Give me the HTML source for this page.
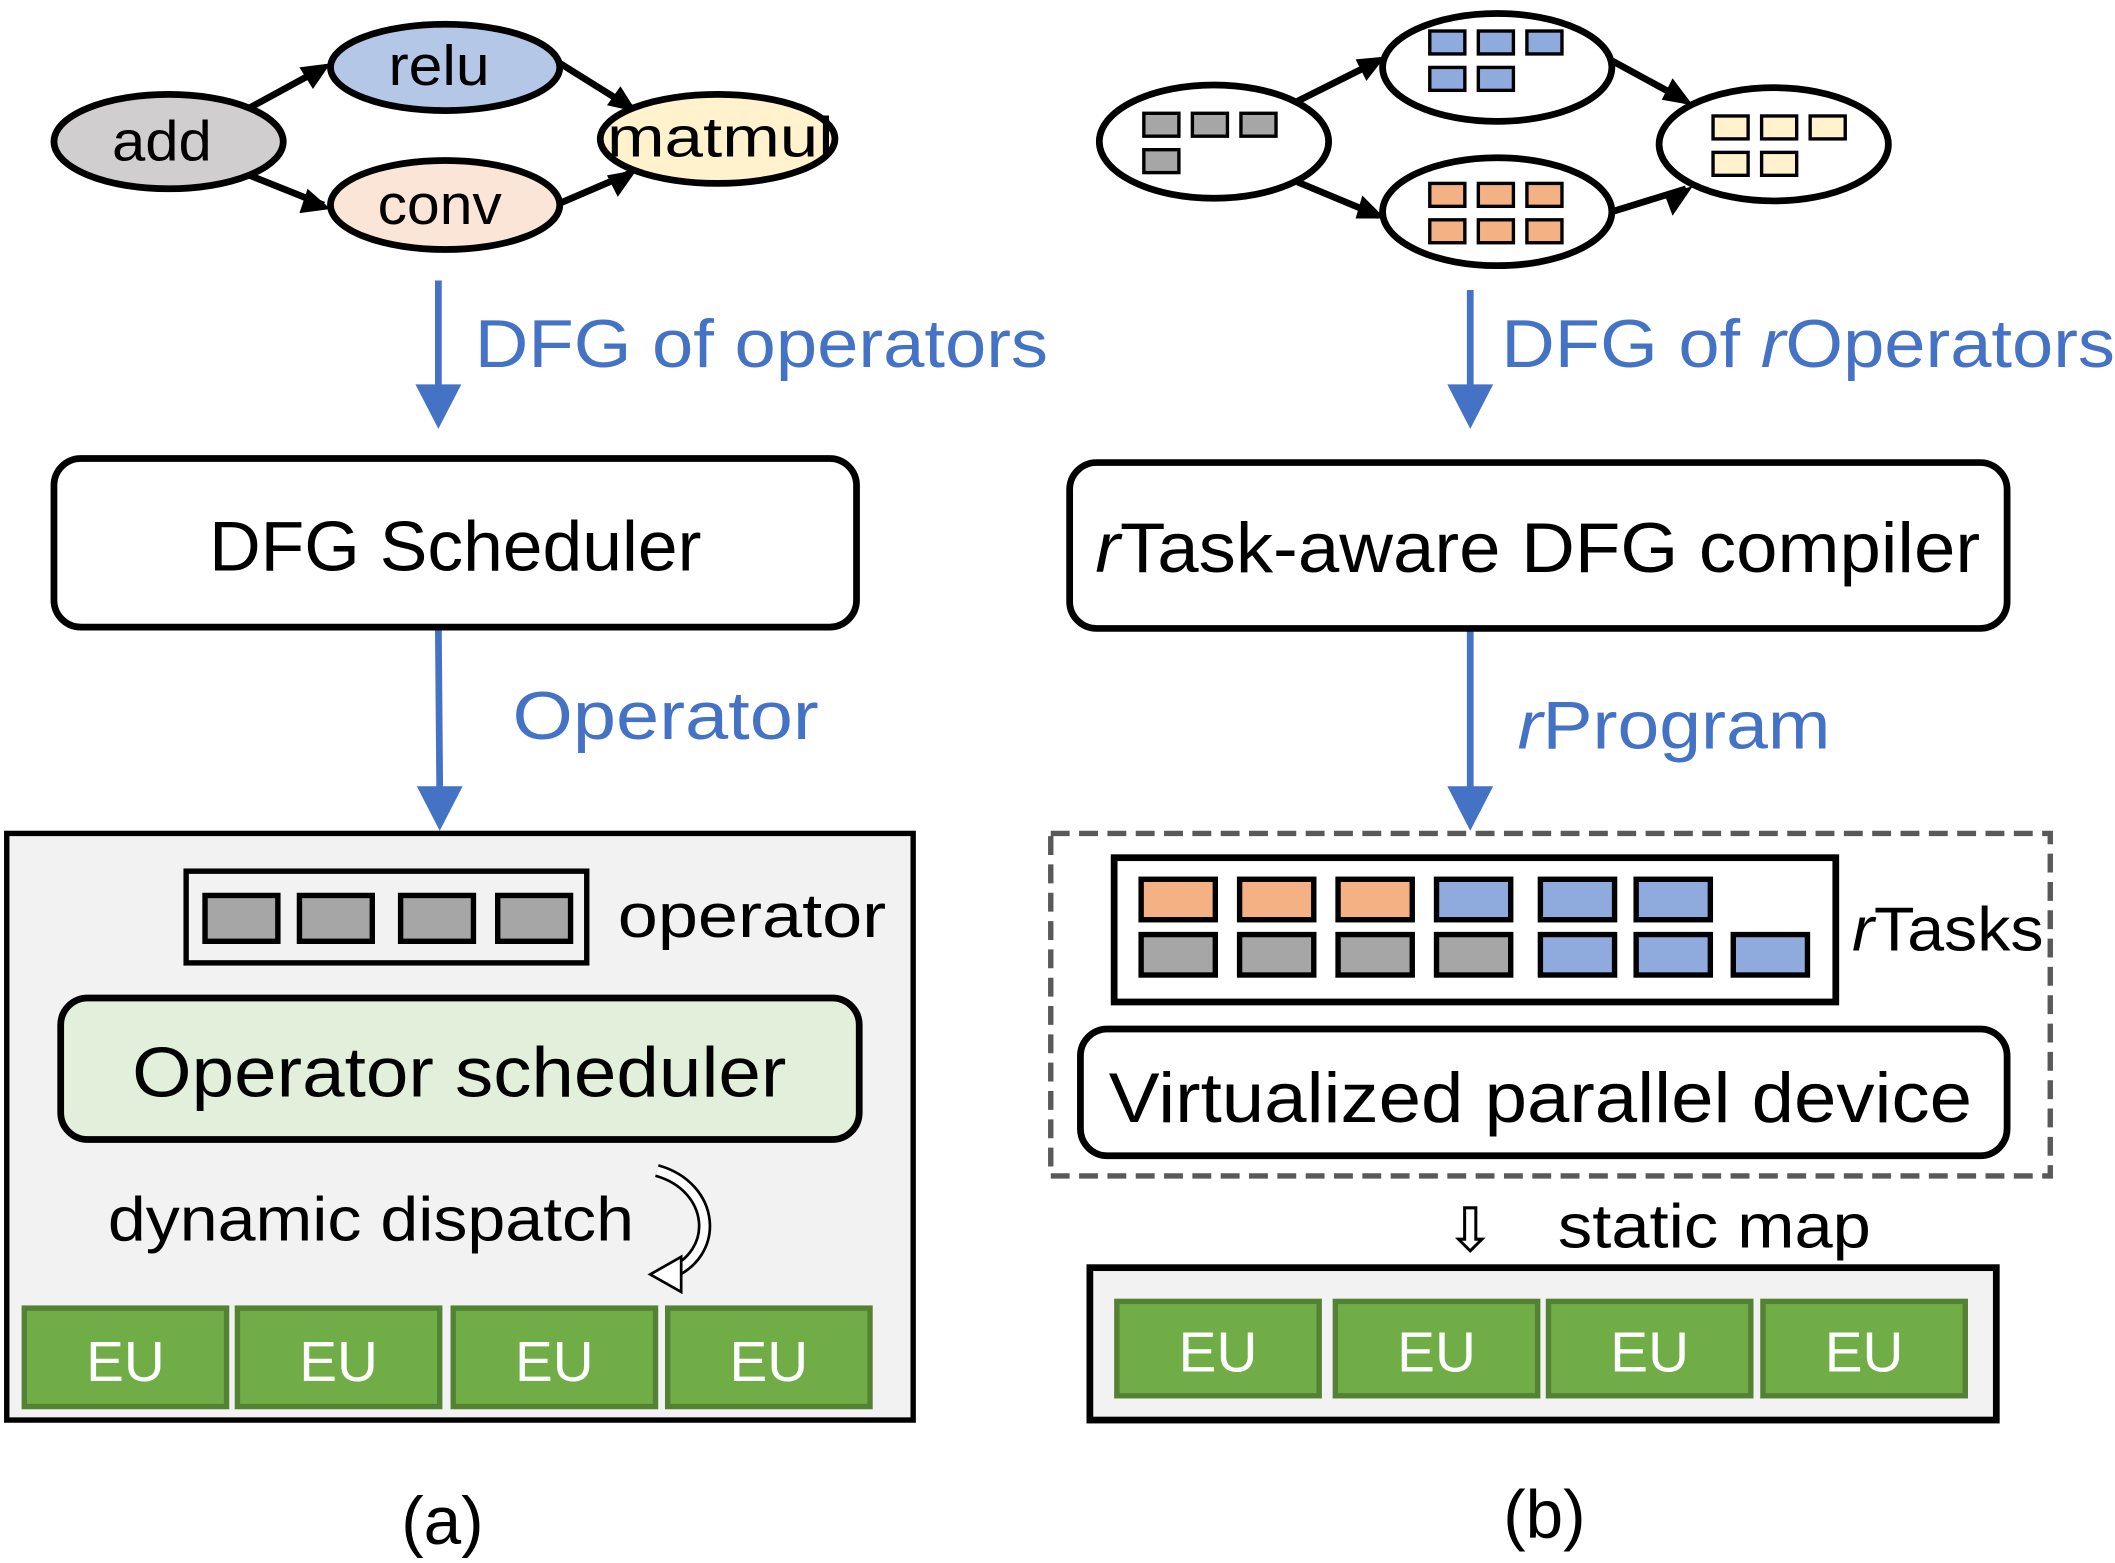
<!DOCTYPE html>
<html><head><meta charset="utf-8"><style>
html,body{margin:0;padding:0;background:#fff}
svg{display:block}
text{font-family:"Liberation Sans",sans-serif}
</style></head><body>
<svg width="2115" height="1563" viewBox="0 0 1568 1159" preserveAspectRatio="none" xmlns="http://www.w3.org/2000/svg">
<g stroke="#000" stroke-width="5">
<line x1="185" y1="80" x2="240" y2="50"/>
<line x1="185" y1="130" x2="240" y2="152"/>
<line x1="412" y1="45" x2="468" y2="80"/>
<line x1="412" y1="152" x2="468" y2="128"/>
<line x1="962" y1="75" x2="1022" y2="45"/>
<line x1="962" y1="135" x2="1022" y2="160"/>
<line x1="1195" y1="45" x2="1250" y2="75"/>
<line x1="1195" y1="157" x2="1250" y2="140"/>
</g>
<g fill="#000">
<polygon points="245,47 222,50 232,66"/>
<polygon points="245,155 222,158 228,140"/>
<polygon points="472,83 450,78 460,64"/>
<polygon points="472,126 450,130 458,146"/>
<polygon points="1027,42 1005,44 1013,60"/>
<polygon points="1027,162 1005,162 1010,145"/>
<polygon points="1255,78 1232,74 1240,58"/>
<polygon points="1255,138 1234,144 1240,160"/>
</g>
<g stroke="#000" stroke-width="5">
<ellipse cx="125" cy="105" rx="85" ry="35" fill="#d0cece"/>
<ellipse cx="330" cy="50" rx="85" ry="32" fill="#b4c7e7"/>
<ellipse cx="330" cy="152" rx="85" ry="33" fill="#fbe5d6"/>
<ellipse cx="532" cy="103" rx="87" ry="33" fill="#fff2cc"/>
<ellipse cx="900" cy="105" rx="85" ry="42" fill="#fff"/>
<ellipse cx="1110" cy="50" rx="85" ry="40" fill="#fff"/>
<ellipse cx="1110" cy="157" rx="85" ry="40" fill="#fff"/>
<ellipse cx="1315" cy="107" rx="85" ry="42" fill="#fff"/>
</g>
<g font-size="42" fill="#000" lengthAdjust="spacingAndGlyphs">
<text x="83" y="119" textLength="74" lengthAdjust="spacingAndGlyphs">add</text>
<text x="288" y="63" textLength="75" lengthAdjust="spacingAndGlyphs">relu</text>
<text x="280" y="166" textLength="92" lengthAdjust="spacingAndGlyphs">conv</text>
<text x="450" y="116" textLength="168" lengthAdjust="spacingAndGlyphs">matmul</text>
</g>
<g stroke="#000" stroke-width="2.5">
<g fill="#a6a6a6"><rect x="848" y="84" width="26" height="17"/><rect x="884" y="84" width="26" height="17"/><rect x="920" y="84" width="26" height="17"/><rect x="848" y="111" width="26" height="17"/></g>
<g fill="#8faadc"><rect x="1060" y="23" width="26" height="17"/><rect x="1096" y="23" width="26" height="17"/><rect x="1132" y="23" width="26" height="17"/><rect x="1060" y="50" width="26" height="17"/><rect x="1096" y="50" width="26" height="17"/></g>
<g fill="#f4b183"><rect x="1060" y="136" width="26" height="17"/><rect x="1096" y="136" width="26" height="17"/><rect x="1132" y="136" width="26" height="17"/><rect x="1060" y="163" width="26" height="17"/><rect x="1096" y="163" width="26" height="17"/><rect x="1132" y="163" width="26" height="17"/></g>
<g fill="#fff2cc"><rect x="1270" y="86" width="26" height="17"/><rect x="1306" y="86" width="26" height="17"/><rect x="1342" y="86" width="26" height="17"/><rect x="1270" y="113" width="26" height="17"/><rect x="1306" y="113" width="26" height="17"/></g>
</g>
<g stroke="#4472c4" stroke-width="5" fill="#4472c4">
<line x1="325" y1="208" x2="325" y2="290"/><polygon points="308,285 342,285 325,318" stroke="none"/>
<line x1="325" y1="466" x2="326" y2="588"/><polygon points="309,583 343,583 326,616" stroke="none"/>
<line x1="1090" y1="215" x2="1090" y2="290"/><polygon points="1073,285 1107,285 1090,318" stroke="none"/>
<line x1="1090" y1="468" x2="1090" y2="588"/><polygon points="1073,583 1107,583 1090,616" stroke="none"/>
</g>
<g fill="#4472c4" font-size="50">
<text x="352" y="272" textLength="425" lengthAdjust="spacingAndGlyphs">DFG of operators</text>
<text x="380" y="548" textLength="227" lengthAdjust="spacingAndGlyphs">Operator</text>
<text x="1113" y="272" textLength="455" lengthAdjust="spacingAndGlyphs">DFG of <tspan font-style="italic">r</tspan>Operators</text>
<text x="1125" y="555" textLength="232" lengthAdjust="spacingAndGlyphs"><tspan font-style="italic">r</tspan>Program</text>
</g>
<rect x="40" y="340" width="595" height="125" rx="20" fill="#fff" stroke="#000" stroke-width="5"/>
<text x="155" y="423" font-size="52" textLength="365" lengthAdjust="spacingAndGlyphs">DFG Scheduler</text>
<rect x="793" y="343" width="695" height="123" rx="20" fill="#fff" stroke="#000" stroke-width="5"/>
<text x="812" y="424" font-size="52" textLength="656" lengthAdjust="spacingAndGlyphs"><tspan font-style="italic">r</tspan>Task-aware DFG compiler</text>
<rect x="5" y="618" width="672" height="435" fill="#f2f2f2" stroke="#000" stroke-width="4"/>
<rect x="138" y="646" width="297" height="68" fill="#f2f2f2" stroke="#000" stroke-width="4"/>
<g fill="#a6a6a6" stroke="#000" stroke-width="4"><rect x="152" y="664" width="54" height="34"/><rect x="222" y="664" width="54" height="34"/><rect x="297" y="664" width="54" height="34"/><rect x="369" y="664" width="54" height="34"/></g>
<text x="458" y="695" font-size="46" textLength="199" lengthAdjust="spacingAndGlyphs">operator</text>
<rect x="45" y="740" width="592" height="105" rx="20" fill="#e2efda" stroke="#000" stroke-width="5"/>
<text x="98" y="813" font-size="52" textLength="485" lengthAdjust="spacingAndGlyphs">Operator scheduler</text>
<text x="80" y="920" font-size="46" textLength="390" lengthAdjust="spacingAndGlyphs">dynamic dispatch</text>
<path d="M487,868 C530,880 535,930 495,945" fill="none" stroke="#000" stroke-width="10"/>
<path d="M487,868 C530,880 535,930 495,945" fill="none" stroke="#fff" stroke-width="6"/>
<polygon points="482,945 505,932 505,958" fill="#fff" stroke="#000" stroke-width="2"/>
<g fill="#70ad47" stroke="#548235" stroke-width="4">
<rect x="18" y="970" width="150" height="73"/><rect x="176" y="970" width="150" height="73"/><rect x="336" y="970" width="150" height="73"/><rect x="495" y="970" width="150" height="73"/>
</g>
<g fill="#fff" font-size="42" text-anchor="middle"><text x="93" y="1024">EU</text><text x="251" y="1024">EU</text><text x="411" y="1024">EU</text><text x="570" y="1024">EU</text></g>
<text x="328" y="1145" font-size="50" text-anchor="middle">(a)</text>
<rect x="779" y="618" width="741" height="254" fill="none" stroke="#595959" stroke-width="4" stroke-dasharray="14,7"/>
<rect x="826" y="636" width="535" height="107" fill="#fff" stroke="#000" stroke-width="5"/>
<g stroke="#000" stroke-width="4">
<g fill="#f4b183"><rect x="846" y="652" width="55" height="30"/><rect x="919" y="652" width="55" height="30"/><rect x="992" y="652" width="55" height="30"/></g>
<g fill="#8faadc"><rect x="1065" y="652" width="55" height="30"/><rect x="1142" y="652" width="55" height="30"/><rect x="1213" y="652" width="55" height="30"/><rect x="1142" y="693" width="55" height="30"/><rect x="1213" y="693" width="55" height="30"/><rect x="1285" y="693" width="55" height="30"/></g>
<g fill="#a6a6a6"><rect x="846" y="693" width="55" height="30"/><rect x="919" y="693" width="55" height="30"/><rect x="992" y="693" width="55" height="30"/><rect x="1065" y="693" width="55" height="30"/></g>
</g>
<text x="1373" y="705" font-size="46" textLength="142" lengthAdjust="spacingAndGlyphs"><tspan font-style="italic">r</tspan>Tasks</text>
<rect x="801" y="763" width="687" height="94" rx="20" fill="#fff" stroke="#000" stroke-width="5"/>
<text x="822" y="832" font-size="52" textLength="640" lengthAdjust="spacingAndGlyphs">Virtualized parallel device</text>
<text x="1090" y="928" font-size="46" text-anchor="middle">⇩</text>
<text x="1155" y="925" font-size="46" textLength="232" lengthAdjust="spacingAndGlyphs">static map</text>
<rect x="808" y="940" width="672" height="113" fill="#f2f2f2" stroke="#000" stroke-width="5"/>
<g fill="#70ad47" stroke="#548235" stroke-width="4">
<rect x="828" y="965" width="150" height="70"/><rect x="990" y="965" width="150" height="70"/><rect x="1148" y="965" width="150" height="70"/><rect x="1307" y="965" width="150" height="70"/>
</g>
<g fill="#fff" font-size="42" text-anchor="middle"><text x="903" y="1017">EU</text><text x="1065" y="1017">EU</text><text x="1223" y="1017">EU</text><text x="1382" y="1017">EU</text></g>
<text x="1145" y="1140" font-size="50" text-anchor="middle">(b)</text>
</svg>
</body></html>
